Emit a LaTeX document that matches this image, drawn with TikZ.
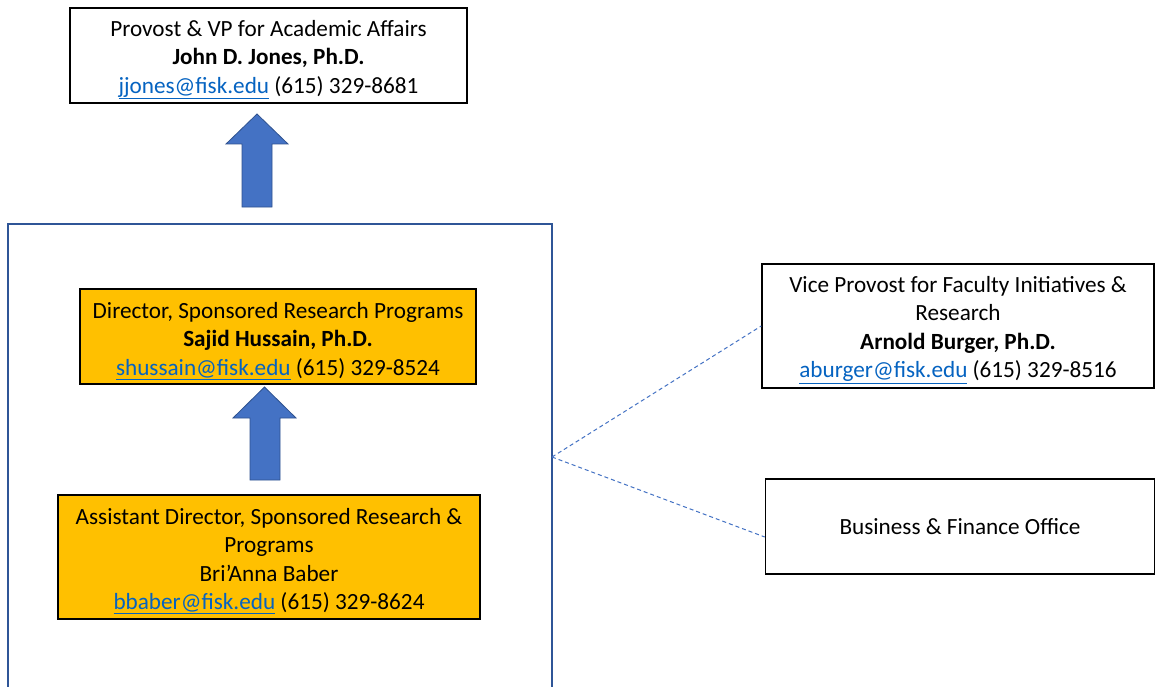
\documentclass[tikz,border=0pt]{standalone}
\usepackage{fontspec}
\setmainfont{Carlito}
\definecolor{linkblue}{HTML}{0563C1}
\definecolor{arrowblue}{HTML}{4472C4}
\definecolor{arrowedge}{HTML}{2F528F}
\definecolor{orgfill}{HTML}{FFC000}
\definecolor{frameblue}{HTML}{2F5597}
\definecolor{dashblue}{HTML}{4472C4}
\newcommand{\lnk}[1]{\textcolor{linkblue}{\underline{#1}}}
\begin{document}
\begin{tikzpicture}[x=1pt,y=-1pt,
  txt/.style={align=center, inner sep=0pt, font=\fontsize{23.2}{28.5}\selectfont},
  box/.style={draw=black, line width=1.5pt, inner sep=0pt, txt},
  orgbox/.style={box, fill=orgfill},
  blockarrow/.style={fill=arrowblue, draw=arrowedge, line width=0.8pt},
  frame/.style={draw=frameblue, line width=2pt, inner sep=0pt},
  link/.style={draw=dashblue, line width=1pt, dash pattern=on 4pt off 3pt}]
\useasboundingbox (0,0) rectangle (1155,687);
\fill[white] (0,0) rectangle (1155,687);
\begin{scope}
\clip (0,0) rectangle (1155,687);
\node[frame, minimum width=544pt, minimum height=496pt] (team) at (280,472) {};
\node[box, minimum width=397pt, minimum height=95pt,
  label={[txt, yshift=-4pt]center:{Provost \& VP for Academic Affairs\\\textbf{John D. Jones, Ph.D.}\\\lnk{jjones@fisk.edu} (615) 329-8681}}] (prov) at (268.5,55.5) {};
\node[orgbox, minimum width=396pt, minimum height=95pt,
  label={[txt, yshift=-4.5pt]center:{Director, Sponsored Research Programs\\\textbf{Sajid Hussain, Ph.D.}\\\lnk{shussain@fisk.edu} (615) 329-8524}}] (dir) at (278,336.5) {};
\node[orgbox, minimum width=422pt, minimum height=124pt,
  label={[txt, yshift=-4pt]center:{Assistant Director, Sponsored Research \&\\Programs\\Bri’Anna Baber\\\lnk{bbaber@fisk.edu} (615) 329-8624}}] (asst) at (269,557) {};
\node[box, minimum width=392pt, minimum height=124pt,
  label={[txt, yshift=-4pt]center:{Vice Provost for Faculty Initiatives \&\\Research\\\textbf{Arnold Burger, Ph.D.}\\\lnk{aburger@fisk.edu} (615) 329-8516}}] (vp) at (958,326) {};
\node[box, minimum width=389pt, minimum height=95pt] (biz) at (960,526.5)
  {Business \& Finance Office};
\coordinate (hub) at (552,457);
\draw[link] (hub) -- (vp.west);
\draw[link] (hub) -- ([yshift=-10.5pt]biz.west);
\draw[blockarrow] (242,207) -- (242,144) -- (226,144) -- (257,114) -- (288,144) -- (272,144) -- (272,207) -- cycle;
\draw[blockarrow] (250,480) -- (250,418) -- (233,418) -- (264.5,387) -- (296,418) -- (280,418) -- (280,480) -- cycle;
\end{scope}
\end{tikzpicture}
\end{document}
